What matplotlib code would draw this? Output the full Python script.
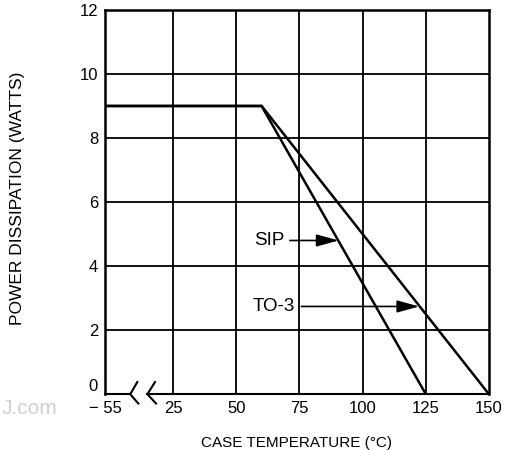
import matplotlib.pyplot as plt

plt.rcParams['font.family'] = ['Liberation Sans', 'DejaVu Sans']

# Leistungskurven (Gehäusetemperatur in °C, Leistung in W)
temp_sip = [-55, 60, 125]
watt_sip = [9.0, 9.0, 0.0]
temp_to3 = [-55, 60, 150]
watt_to3 = [9.0, 9.0, 0.0]

x_ticks = [-55, 25, 50, 75, 100, 125, 150]
x_labels = ["\u2212 55", "25", "50", "75", "100", "125", "150"]
y_ticks = [0, 2, 4, 6, 8, 10, 12]


def xmap(t):
    # Achsenbruch zwischen -55 und 25
    return t if t >= 25 else 25 + (t - 25) * 27 / 80


fig = plt.figure(figsize=(5.12, 4.5), dpi=100)
ax = fig.add_axes([0.205, 0.124, 0.750, 0.854])

for xv in [25, 50, 75, 100, 125]:
    ax.axvline(xv, color='k', lw=1.3, zorder=1)
for yv in [2, 4, 6, 8, 10]:
    ax.axhline(yv, color='k', lw=1.3, zorder=1)

ax.plot([xmap(t) for t in temp_sip], watt_sip, color='k', lw=1.8, zorder=3)
ax.plot([xmap(t) for t in temp_to3], watt_to3, color='k', lw=1.8, zorder=3)

ax.set_xlim(xmap(-55), 150)
ax.set_ylim(0, 12)
ax.set_xticks([xmap(t) for t in x_ticks])
ax.set_xticklabels(x_labels)
ax.set_yticks(y_ticks)
ax.tick_params(length=0, labelsize=12, pad=5)
ax.get_yticklabels()[0].set_va('bottom')

for s in ['top', 'left', 'right']:
    ax.spines[s].set_linewidth(1.8)
ax.spines['bottom'].set_visible(False)

# Achsenbruch-Zeichen unten
kw = dict(color='k', lw=1.5, clip_on=False, zorder=4)
ax.plot([xmap(-55), 8], [0, 0], **kw)
ax.plot([10.8, 8, 11.2], [0.38, 0, -0.29], **kw)
ax.plot([17.8, 14.8, 18.2], [0.38, 0, -0.29], **kw)
ax.plot([14.8, 150], [0, 0], **kw)

pfeil = dict(arrowstyle='-|>,head_length=0.8,head_width=0.22',
             color='k', lw=1.2, mutation_scale=17, shrinkB=0)
ax.annotate("SIP", xy=(90.5, 4.8), xytext=(69, 4.8), fontsize=13.5,
            ha='right', va='center', arrowprops=dict(pfeil, shrinkA=2))
ax.annotate("TO-3", xy=(122.4, 2.74), xytext=(73, 2.74), fontsize=13.5,
            ha='right', va='center', arrowprops=dict(pfeil, shrinkA=3))

ax.set_xlabel("CASE TEMPERATURE (\u00b0C)", fontsize=11, labelpad=14)
fig.text(0.035, 0.56, "POWER DISSIPATION (WATTS)", rotation=90,
         fontsize=12.5, ha='center', va='center')

fig.text(0.004, 0.092, "J.com", fontsize=15, color='#d0d0d0', ha='left', va='center')

fig.savefig("out.png", dpi=100)
